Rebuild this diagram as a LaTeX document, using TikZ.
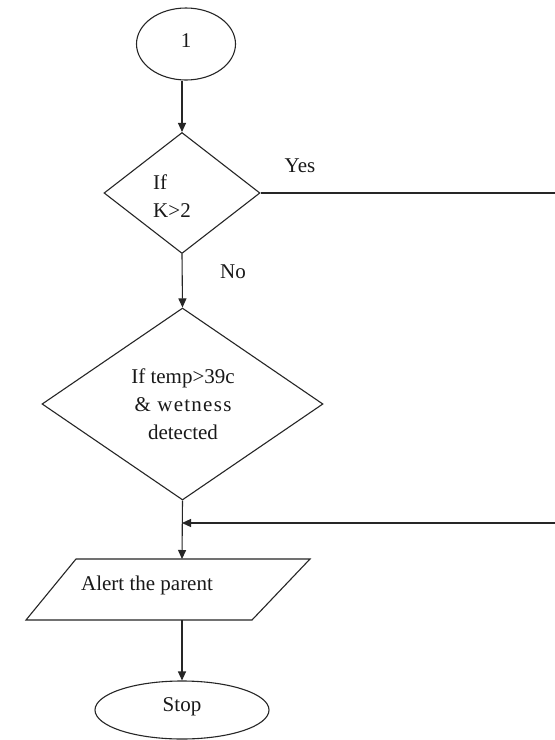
\documentclass[tikz,border=0pt]{standalone}
\usepackage{fontspec}
\setmainfont{Liberation Serif}
\usetikzlibrary{shapes.geometric,arrows.meta}
\begin{document}
\begin{tikzpicture}[x=1pt,y=-1pt,
  line/.style={draw=black!85,line width=1.1pt},
  arr/.style={line,-{Triangle[length=9pt,width=8pt]}},
  txt/.style={font=\fontsize{21}{28}\selectfont,text=black!90,inner sep=0pt,align=center},
  oval/.style={ellipse,line,inner sep=0pt},
  decision/.style={diamond,line,inner sep=0pt}]
\useasboundingbox (0,0) rectangle (555,740);
\fill[white] (0,0) rectangle (555,740);
% nodes
\node[oval,minimum width=99pt,minimum height=72pt] (one) at (186,44) {};
\node[txt] (onet) at (186,41) {1};
\node[decision,minimum width=156pt,minimum height=121pt] (dia1) at (182,193) {};
\node[txt,align=left] (dia1t) at (172,196) {If\\K>2};
\node[decision,minimum width=281pt,minimum height=192pt] (dia2) at (182.5,404) {};
\node[txt] (dia2t) at (183,404) {If temp>39c\\{\addfontfeature{LetterSpace=6}\&~wetness}\\detected};
% parallelogram
\coordinate (pa) at (76,559);
\coordinate (pb) at (310,559);
\coordinate (pc) at (252,620);
\coordinate (pd) at (26,620);
\draw[line,line join=miter] (pa) -- (pb) -- (pc) -- (pd) -- cycle;
\coordinate (alerttop) at (182,559);
\coordinate (alertbot) at (182,620);
\node[txt] (alertt) at (147,585) {Alert the parent};
\node[oval,minimum width=174pt,minimum height=58pt] (stop) at (182,710) {};
\node[txt] (stopt) at (182,707) {Stop};
% labels
\node[txt] (yes) at (300,166) {Yes};
\node[txt] (no) at (233,272) {No};
% coordinates
\coordinate (yesend) at (556,193);
\coordinate (retstart) at (556,523);
\coordinate (join) at (182,523);
% connectors
\draw[arr] (one.south -| dia1.north) -- (dia1.north);
\draw[arr] (dia1.south) -- (dia2.north);
\draw[line] (dia1.east) -- (yesend);
\draw[arr] (dia2.south) -- (alerttop);
\draw[arr] (retstart) -- (join);
\draw[arr] (alertbot) -- (stop.north);
\end{tikzpicture}
\end{document}
